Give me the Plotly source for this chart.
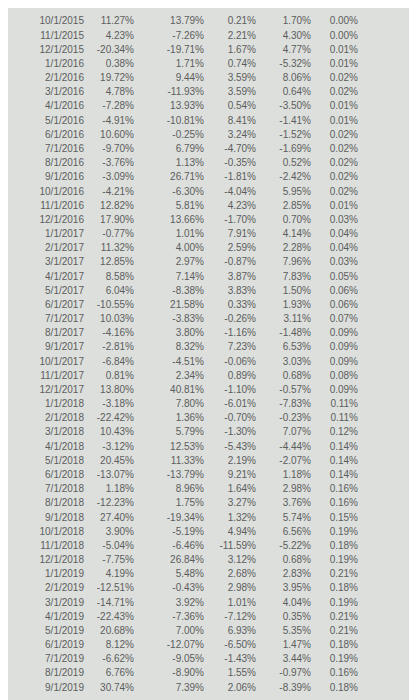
import plotly.graph_objects as go

dates = ["10/1/2015", "11/1/2015", "12/1/2015", "1/1/2016", "2/1/2016", "3/1/2016", "4/1/2016",
         "5/1/2016", "6/1/2016", "7/1/2016", "8/1/2016", "9/1/2016", "10/1/2016", "11/1/2016",
         "12/1/2016", "1/1/2017", "2/1/2017", "3/1/2017", "4/1/2017", "5/1/2017", "6/1/2017",
         "7/1/2017", "8/1/2017", "9/1/2017", "10/1/2017", "11/1/2017", "12/1/2017", "1/1/2018",
         "2/1/2018", "3/1/2018", "4/1/2018", "5/1/2018", "6/1/2018", "7/1/2018", "8/1/2018",
         "9/1/2018", "10/1/2018", "11/1/2018", "12/1/2018", "1/1/2019", "2/1/2019", "3/1/2019",
         "4/1/2019", "5/1/2019", "6/1/2019", "7/1/2019", "8/1/2019", "9/1/2019"]

col1 = [11.27, 4.23, -20.34, 0.38, 19.72, 4.78, -7.28, -4.91, 10.60, -9.70, -3.76, -3.09, -4.21, 12.82,
        17.90, -0.77, 11.32, 12.85, 8.58, 6.04, -10.55, 10.03, -4.16, -2.81, -6.84, 0.81, 13.80, -3.18,
        -22.42, 10.43, -3.12, 20.45, -13.07, 1.18, -12.23, 27.40, 3.90, -5.04, -7.75, 4.19, -12.51, -14.71,
        -22.43, 20.68, 8.12, -6.62, 6.76, 30.74]
col2 = [13.79, -7.26, -19.71, 1.71, 9.44, -11.93, 13.93, -10.81, -0.25, 6.79, 1.13, 26.71, -6.30, 5.81,
        13.66, 1.01, 4.00, 2.97, 7.14, -8.38, 21.58, -3.83, 3.80, 8.32, -4.51, 2.34, 40.81, 7.80,
        1.36, 5.79, 12.53, 11.33, -13.79, 8.96, 1.75, -19.34, -5.19, -6.46, 26.84, 5.48, -0.43, 3.92,
        -7.36, 7.00, -12.07, -9.05, -8.90, 7.39]
col3 = [0.21, 2.21, 1.67, 0.74, 3.59, 3.59, 0.54, 8.41, 3.24, -4.70, -0.35, -1.81, -4.04, 4.23,
        -1.70, 7.91, 2.59, -0.87, 3.87, 3.83, 0.33, -0.26, -1.16, 7.23, -0.06, 0.89, -1.10, -6.01,
        -0.70, -1.30, -5.43, 2.19, 9.21, 1.64, 3.27, 1.32, 4.94, -11.59, 3.12, 2.68, 2.98, 1.01,
        -7.12, 6.93, -6.50, -1.43, 1.55, 2.06]
col4 = [1.70, 4.30, 4.77, -5.32, 8.06, 0.64, -3.50, -1.41, -1.52, -1.69, 0.52, -2.42, 5.95, 2.85,
        0.70, 4.14, 2.28, 7.96, 7.83, 1.50, 1.93, 3.11, -1.48, 6.53, 3.03, 0.68, -0.57, -7.83,
        -0.23, 7.07, -4.44, -2.07, 1.18, 2.98, 3.76, 5.74, 6.56, -5.22, 0.68, 2.83, 3.95, 4.04,
        0.35, 5.35, 1.47, 3.44, -0.97, -8.39]
col5 = [0.00, 0.00, 0.01, 0.01, 0.02, 0.02, 0.01, 0.01, 0.02, 0.02, 0.02, 0.02, 0.02, 0.01,
        0.03, 0.04, 0.04, 0.03, 0.05, 0.06, 0.06, 0.07, 0.09, 0.09, 0.09, 0.08, 0.09, 0.11,
        0.11, 0.12, 0.14, 0.14, 0.14, 0.16, 0.16, 0.15, 0.19, 0.18, 0.19, 0.21, 0.18, 0.19,
        0.21, 0.21, 0.18, 0.19, 0.16, 0.18]

# -------------------- Draw as right-aligned text columns -------------------- #
def pct(vals):
    return [f"{v:.2f}%" for v in vals]

bg = "#dddfdc"
font = dict(family="Liberation Sans Narrow, Liberation Sans", size=10, color="#5b5d5d")
right_edges = [76, 126, 196, 248, 303, 350]   # pixel x of each column's right edge
texts = [dates, pct(col1), pct(col2), pct(col3), pct(col4), pct(col5)]
rows = list(range(len(dates)))

fig = go.Figure()
for edge, txt in zip(right_edges, texts):
    fig.add_trace(go.Scatter(x=[edge] * len(rows), y=rows, mode="text", text=txt,
                             textposition="middle left", textfont=font,
                             hoverinfo="skip", showlegend=False))

fig.update_xaxes(range=[0, 417], visible=False)
fig.update_yaxes(range=[48.4, -0.98], visible=False)
fig.update_layout(width=417, height=700, margin=dict(l=0, r=0, t=0, b=0),
                  paper_bgcolor=bg, plot_bgcolor=bg)
fig.write_html("out.html")
